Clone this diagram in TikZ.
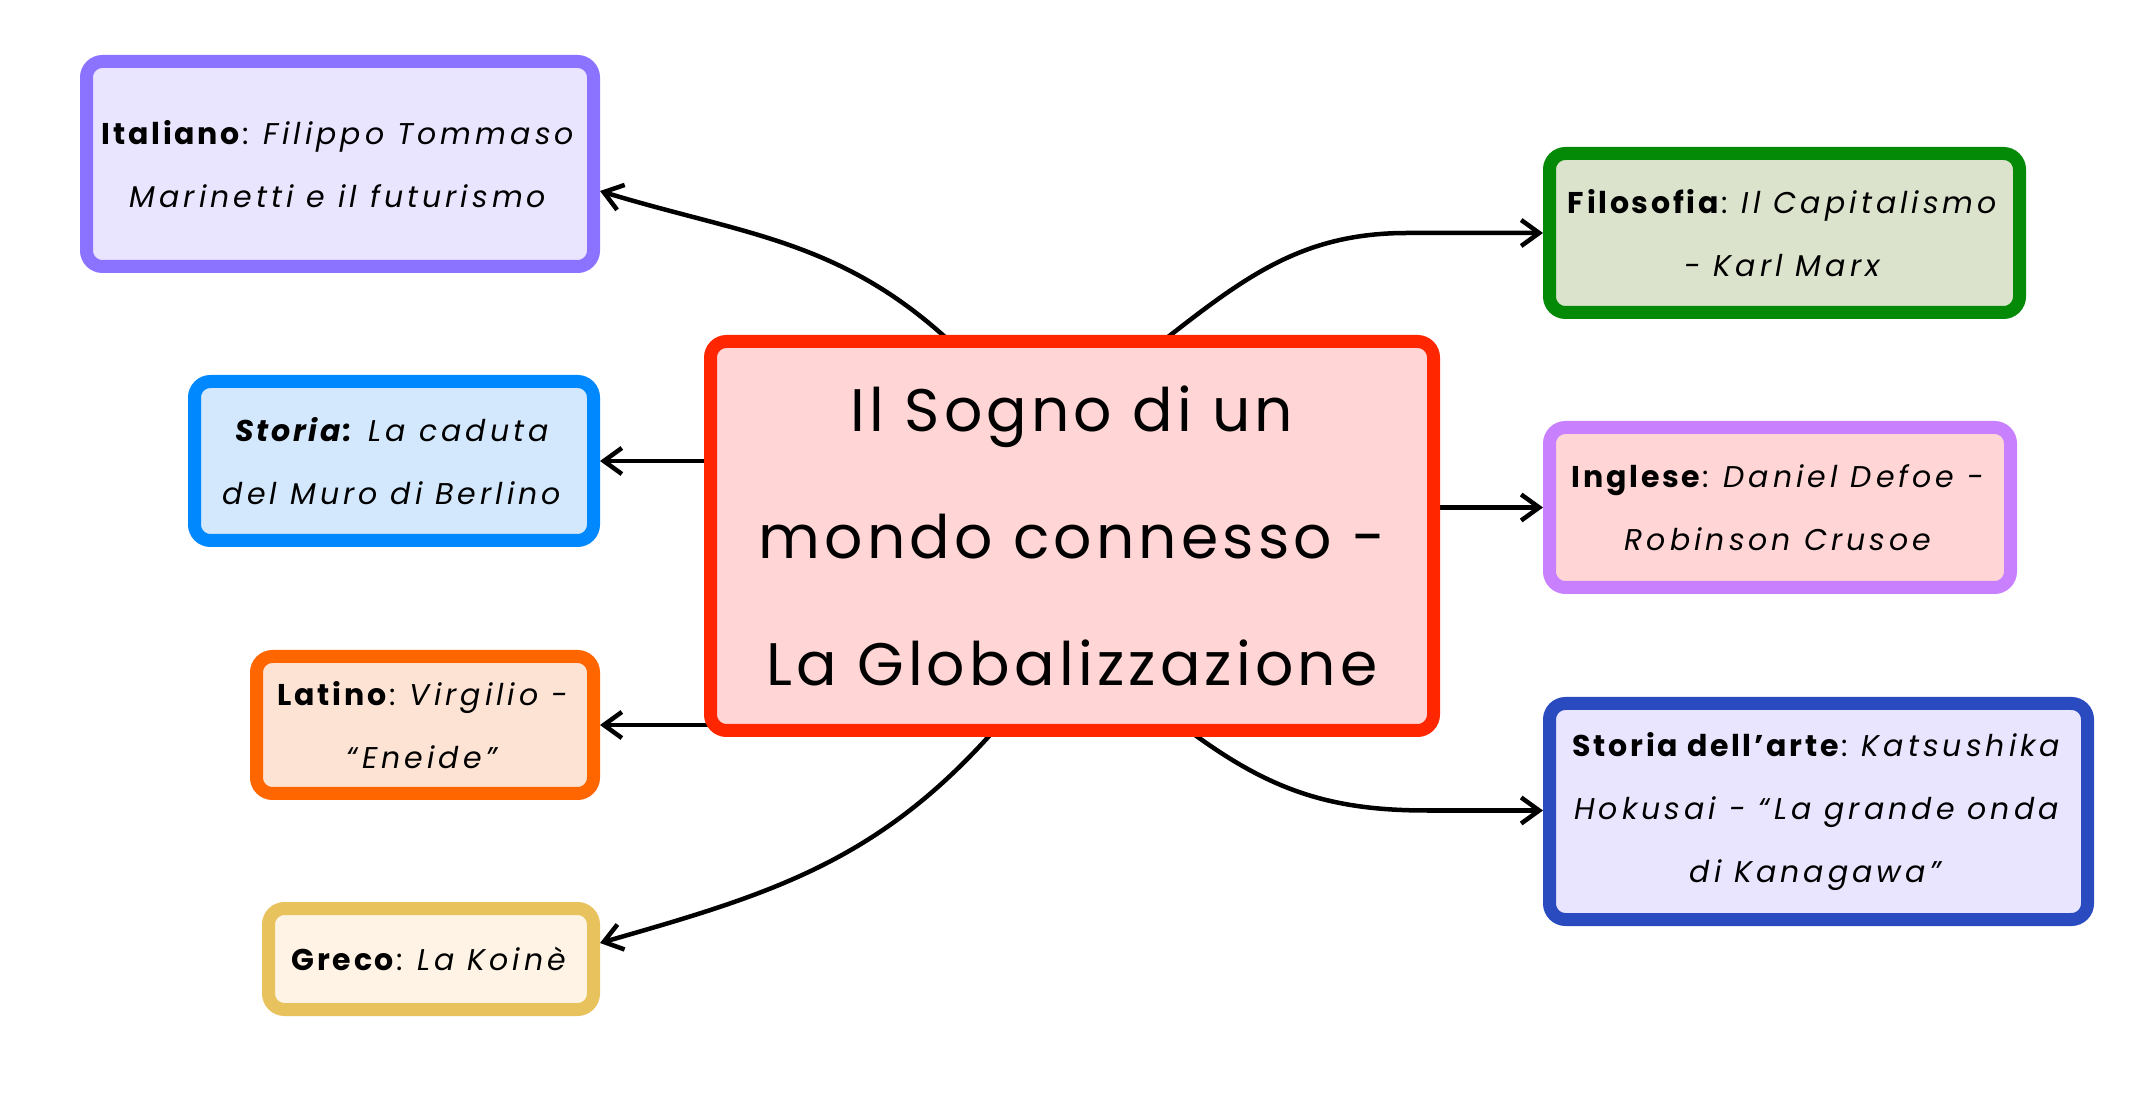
\documentclass[tikz,border=0pt]{standalone}
\usepackage{fontspec}
\setmainfont{Poppins}[LetterSpace=9, ItalicFeatures={LetterSpace=13.5}, BoldItalicFeatures={LetterSpace=9}]
\newfontfamily\centralfont{Poppins}[LetterSpace=7]
\usetikzlibrary{arrows.meta,calc,backgrounds}
\definecolor{itB}{HTML}{8B73FF}\definecolor{itF}{HTML}{EAE5FF}
\definecolor{stB}{HTML}{0088FF}\definecolor{stF}{HTML}{D3E8FC}
\definecolor{laB}{HTML}{FF6600}\definecolor{laF}{HTML}{FCE3D4}
\definecolor{grB}{HTML}{E8C25C}\definecolor{grF}{HTML}{FEF3E4}
\definecolor{ceB}{HTML}{FF2600}\definecolor{ceF}{HTML}{FFD6D5}
\definecolor{fiB}{HTML}{048A07}\definecolor{fiF}{HTML}{DCE3CC}
\definecolor{inB}{HTML}{C880FF}\definecolor{inF}{HTML}{FFD6D5}
\definecolor{arB}{HTML}{2A4BC0}\definecolor{arF}{HTML}{E9E5FF}
\tikzset{
  box/.style={draw, line width=13pt, rounded corners=16pt, align=center, inner sep=0pt,
    font=\fontsize{30}{63}\selectfont},
  centralbox/.style={box, font=\centralfont\fontsize{60}{127}\selectfont},
  arr/.style={line width=4.5pt, -{Straight Barb[length=18pt,width=26pt]}}
}
\begin{document}
\begin{tikzpicture}[x=1pt,y=1pt]
\useasboundingbox (0,0) rectangle (2134,1096);
\node[centralbox, draw=ceB, fill=ceF, minimum width=723pt, minimum height=389pt] (c) at (1072,560)
  {Il Sogno di un\\mondo connesso -\\La Globalizzazione};
\node[box, draw=itB, fill=itF, minimum width=507pt, minimum height=205pt] (it) at (340,932)
  {\textbf{Italiano}: \textit{Filippo Tommaso}\\\textit{Marinetti e il futurismo}};
\node[box, draw=stB, fill=stF, minimum width=399pt, minimum height=159pt] (st) at (394,635)
  {\textbf{\textit{Storia:}} \textit{La caduta}\\\textit{del Muro di Berlino}};
\node[box, draw=laB, fill=laF, minimum width=337pt, minimum height=137pt] (la) at (425,371)
  {\textbf{Latino}: \textit{Virgilio -}\\\textit{“Eneide”}};
\node[box, draw=grB, fill=grF, minimum width=325pt, minimum height=101pt] (gr) at (431,137)
  {\textbf{Greco}: \textit{La Koinè}};
\node[box, draw=fiB, fill=fiF, minimum width=470pt, minimum height=159pt] (fi) at (1784.5,863)
  {\textbf{Filosofia}: \textit{Il Capitalismo}\\\textit{- Karl Marx}};
\node[box, draw=inB, fill=inF, minimum width=461pt, minimum height=160pt] (in) at (1780,588.5)
  {\textbf{Inglese}: \textit{Daniel Defoe -}\\\textit{Robinson Crusoe}};
\node[box, draw=arB, fill=arF, minimum width=538pt, minimum height=216pt] (ar) at (1818.5,284.5)
  {\textbf{Storia dell’arte}: \textit{Katsushika}\\\textit{Hokusai - “La grande onda}\\\textit{di Kanagawa”}};
\begin{pgfonlayer}{background}
\draw[arr] ($(c.north west)+(241,-2)$) to[out=138,in=-17] ($(it.east)+(0,-27)$);
\draw[arr] ($(c.west |- st.east)+(10,0)$) -- (st.east);
\draw[arr] ($(c.west |- la.east)+(20,0)$) -- (la.east);
\draw[arr] ($(c.south west)+(286,2)$) to[out=-132,in=16] ($(gr.east)+(0,16)$);
\draw[arr] ($(c.north west)+(464,-2)$) to[out=38,in=180] ($(fi.west)+(-136,0)$) -- (fi.west);
\draw[arr] ($(c.east |- in.west)+(-10,0)$) -- (in.west);
\draw[arr] ($(c.south west)+(491,2)$) to[out=-36,in=180] ($(ar.west)+(-116,1)$) -- ($(ar.west)+(0,1)$);
\end{pgfonlayer}
\end{tikzpicture}
\end{document}
